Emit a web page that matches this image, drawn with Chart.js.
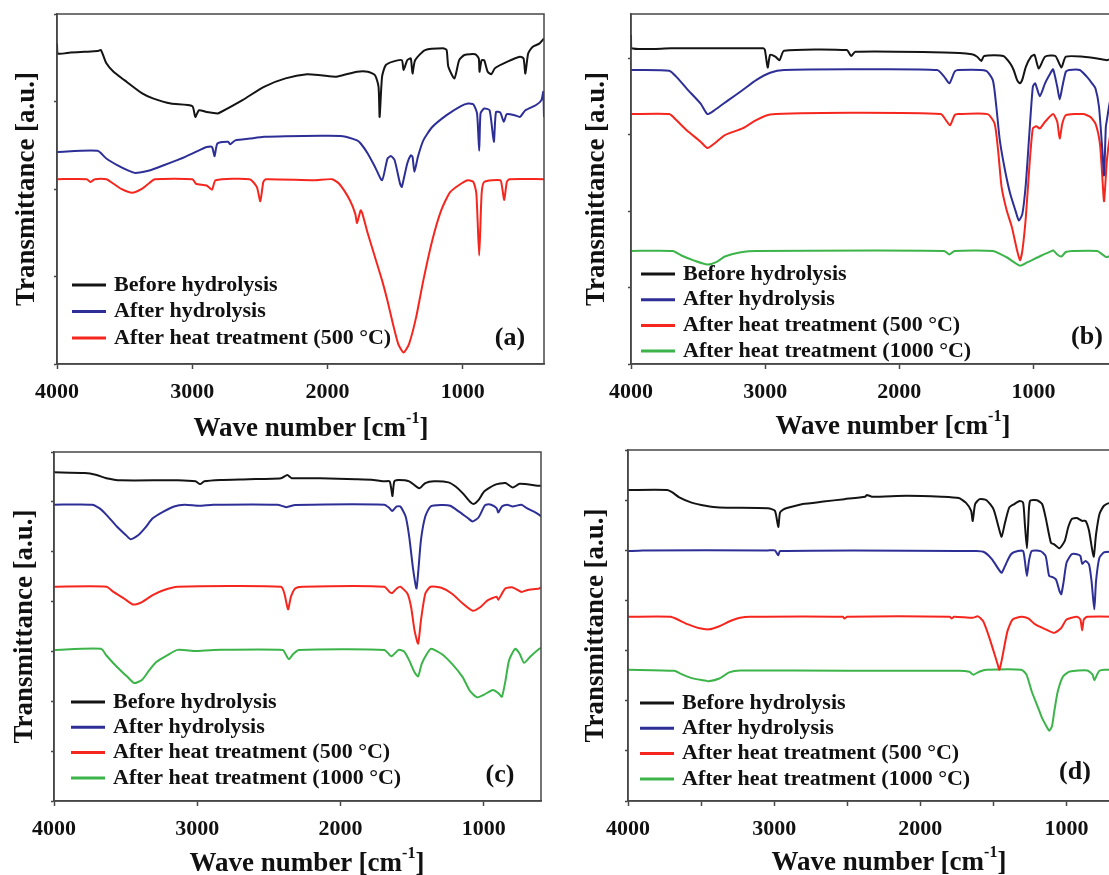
<!DOCTYPE html>
<html>
<head>
<meta charset="utf-8">
<script src="https://cdn.jsdelivr.net/npm/chart.js@4.4.1/dist/chart.umd.min.js"></script>
<style>
  html, body { margin: 0; padding: 0; background: #fff; width: 1109px; height: 875px; overflow: hidden; position: relative; }
  canvas { position: absolute; }
  .xt { position: absolute; transform: translate(-50%, -50%); font: bold 27px "Liberation Serif", serif; color: #111; white-space: nowrap; line-height: 1; }
  .xt sup { font-size: 16px; position: relative; top: -4px; vertical-align: top; }
</style>
</head>
<body>
<canvas id="pa" width="560" height="440" style="left:0;top:0"></canvas>
<canvas id="pb" width="570" height="440" style="left:560px;top:0"></canvas>
<canvas id="pc" width="560" height="435" style="left:0;top:440px"></canvas>
<canvas id="pd" width="570" height="435" style="left:560px;top:440px"></canvas>
<div class="xt" style="left:311px;top:427px">Wave number [cm<sup>-1</sup>]</div>
<div class="xt" style="left:893px;top:425px">Wave number [cm<sup>-1</sup>]</div>
<div class="xt" style="left:307px;top:862px">Wave number [cm<sup>-1</sup>]</div>
<div class="xt" style="left:889px;top:861px">Wave number [cm<sup>-1</sup>]</div>
<script>
// legend names
const labelsABC = ["Before hydrolysis", "After hydrolysis", "After heat treatment (500 °C)", "After heat treatment (1000 °C)"];

// x tick positions (wave number)
const xTicksMain = [4000, 3000, 2000, 1000];
const xTicksD = [4000, 3500, 3000, 2500, 2000, 1500, 1000];
// y tick positions (arbitrary transmittance units, no labels)
const yTicksA = [0, 25, 50, 75, 100];
const yTicksB = [0, 21.9, 43.7, 65.6, 87.4];
const yTicksCD = [0, 14.3, 28.6, 42.9, 57.1, 71.4, 85.7, 100];

// panel (a) spectra: [wave number, transmittance]
const aBefore = [[4000,91.6],[3995,88.7],[3900,89.0],[3800,89.2],[3700,89.4],[3675,89.7],[3635,85.9],[3582,83.5],[3502,81.1],[3370,77.3],[3291,75.9],[3158,74.4],[3000,73.7],[2978,70.6],[2950,72.5],[2894,72.0],[2814,71.6],[2788,72.0],[2629,75.4],[2470,79.2],[2311,81.6],[2152,82.8],[2047,82.5],[1941,82.1],[1888,82.5],[1782,83.5],[1702,83.5],[1649,82.5],[1623,79.2],[1615,70.6],[1597,82.1],[1570,85.4],[1517,86.4],[1451,86.8],[1438,84.0],[1411,86.8],[1385,87.3],[1372,83.0],[1353,86.8],[1279,89.7],[1146,90.2],[1120,89.7],[1107,84.9],[1062,81.6],[1027,86.8],[988,88.3],[908,88.5],[882,87.3],[877,83.5],[861,86.8],[842,86.8],[816,83.5],[789,82.8],[763,84.5],[670,86.4],[577,87.8],[551,87.3],[538,83.0],[517,88.7],[485,90.6],[432,91.6],[400,93.0]];
const aAfter = [[4000,60.6],[3700,60.9],[3635,58.7],[3555,56.8],[3476,55.3],[3423,54.6],[3317,55.3],[3211,56.8],[3052,59.2],[2946,61.1],[2894,62.0],[2854,62.0],[2835,59.4],[2814,63.0],[2735,63.5],[2721,62.8],[2682,63.9],[2576,64.4],[2470,64.9],[2311,65.1],[2047,65.2],[1888,65.1],[1782,63.9],[1755,63.0],[1702,60.1],[1649,56.3],[1597,52.5],[1557,58.7],[1530,59.4],[1504,58.2],[1464,51.5],[1451,50.6],[1411,57.3],[1385,59.6],[1372,59.2],[1358,54.9],[1332,59.2],[1292,63.9],[1226,67.7],[1120,71.1],[1014,73.7],[961,74.4],[922,74.2],[895,71.6],[879,60.9],[869,71.6],[842,73.0],[802,72.5],[771,63.5],[755,72.0],[723,71.8],[697,69.2],[675,71.4],[617,71.1],[577,70.6],[538,72.5],[458,74.0],[419,75.4],[405,77.8],[400,70.6]];
const aHeat500 = [[4000,52.8],[3780,52.8],[3754,52.0],[3720,52.8],[3635,52.8],[3582,51.5],[3529,50.1],[3444,48.9],[3370,50.1],[3317,51.7],[3277,52.8],[2999,52.8],[2973,51.5],[2894,51.0],[2854,49.8],[2827,52.5],[2576,52.8],[2523,50.6],[2497,46.5],[2475,52.0],[2457,52.8],[2099,52.5],[1967,52.8],[1914,51.5],[1835,46.8],[1795,42.9],[1782,40.3],[1755,43.9],[1742,42.9],[1702,37.2],[1649,30.5],[1597,23.9],[1557,18.1],[1517,11.5],[1477,5.7],[1438,3.3],[1398,5.7],[1345,13.4],[1292,23.9],[1226,35.3],[1160,43.9],[1094,49.1],[1014,51.5],[961,52.5],[922,52.0],[900,48.7],[879,31.0],[861,48.7],[842,52.0],[723,52.5],[710,50.6],[694,46.9],[675,52.0],[657,52.8],[400,52.8]];

// panel (b)
const bBefore = [[4000,94.0],[3998,90.2],[3700,90.2],[3015,90.2],[3002,89.7],[2981,84.7],[2963,88.3],[2924,87.8],[2893,86.8],[2859,89.5],[2392,89.7],[2359,88.0],[2328,89.2],[1666,89.0],[1459,88.5],[1420,87.8],[1389,86.6],[1368,88.0],[1225,88.0],[1174,85.9],[1148,84.0],[1122,81.1],[1101,80.2],[1083,81.3],[1057,84.9],[1018,87.8],[992,88.3],[961,84.4],[914,87.8],[837,88.0],[792,84.7],[759,87.8],[629,87.8],[525,87.3],[453,86.8],[400,87.5]];
const bAfter = [[4000,84.0],[3715,83.8],[3663,82.1],[3585,78.7],[3481,74.4],[3430,71.4],[3378,72.5],[3274,75.4],[3170,78.2],[3067,81.1],[2963,83.2],[2859,84.0],[2366,84.2],[1718,84.0],[1666,82.1],[1627,80.2],[1588,83.5],[1563,84.0],[1355,83.8],[1303,81.1],[1277,73.5],[1251,63.9],[1212,55.3],[1174,48.7],[1135,43.9],[1109,41.0],[1083,42.9],[1057,51.5],[1031,65.8],[1005,79.2],[987,80.2],[953,76.5],[914,80.2],[875,83.0],[854,84.2],[823,79.2],[805,75.6],[785,79.2],[759,83.5],[733,84.0],[655,84.0],[603,82.1],[564,80.2],[538,78.7],[512,73.5],[487,61.1],[474,53.9],[461,67.7],[453,69.7],[430,75.0],[400,78.0]];
const bHeat500 = [[4000,71.4],[3715,71.4],[3663,69.7],[3585,66.8],[3481,63.5],[3430,61.7],[3378,63.0],[3300,65.4],[3170,67.3],[3067,69.7],[2963,71.3],[2366,71.8],[1692,71.4],[1653,69.7],[1622,68.2],[1588,71.1],[1563,71.4],[1342,71.4],[1290,68.7],[1264,61.1],[1238,50.6],[1200,43.9],[1161,39.1],[1122,32.4],[1101,29.6],[1083,32.4],[1057,42.0],[1031,56.3],[1005,67.3],[979,67.9],[953,67.3],[914,69.2],[854,71.4],[823,69.2],[805,64.4],[785,68.7],[759,71.1],[629,71.4],[577,70.6],[538,68.7],[505,63.0],[487,53.4],[474,46.5],[453,58.2],[430,65.0],[400,70.0]];
const bHeat1000 = [[4000,32.3],[3689,32.3],[3624,31.0],[3533,29.6],[3430,28.4],[3365,29.1],[3300,30.7],[3170,32.0],[3067,32.3],[1666,32.3],[1627,31.3],[1588,32.3],[1303,32.3],[1200,30.5],[1101,28.1],[1044,29.1],[940,31.0],[862,32.3],[854,32.5],[823,31.3],[792,30.7],[759,32.0],[707,32.3],[525,32.3],[487,31.3],[453,30.5],[400,31.5]];

// panel (c)
const cBefore = [[4000,94.2],[3784,94.0],[3709,93.5],[3634,92.5],[3535,91.9],[3137,91.9],[3012,91.6],[2980,90.8],[2950,91.6],[2838,92.0],[2639,92.2],[2415,92.5],[2371,93.4],[2341,92.5],[2142,92.5],[1893,92.2],[1769,92.0],[1694,91.6],[1657,91.6],[1644,89.1],[1637,87.4],[1624,91.6],[1594,92.0],[1520,91.6],[1450,89.6],[1408,91.1],[1346,91.6],[1246,91.3],[1196,90.1],[1147,88.2],[1097,85.8],[1072,85.1],[1035,86.3],[997,88.7],[923,90.6],[848,91.1],[798,89.8],[749,90.9],[612,90.3],[600,90.3]];
const cAfter = [[4000,84.9],[3734,84.9],[3684,83.9],[3634,82.0],[3560,78.6],[3498,76.2],[3465,75.0],[3410,76.2],[3361,78.4],[3311,81.0],[3236,82.9],[3162,84.4],[3087,84.9],[2988,84.6],[2888,84.9],[2440,84.9],[2378,84.2],[2316,84.8],[1694,84.9],[1657,83.9],[1639,83.1],[1607,84.4],[1582,84.4],[1545,81.5],[1520,75.7],[1495,67.1],[1470,60.9],[1458,65.2],[1438,74.8],[1408,81.5],[1371,84.4],[1296,84.8],[1234,84.6],[1172,82.9],[1109,81.0],[1077,80.1],[1035,81.3],[997,84.4],[985,84.9],[948,84.9],[910,83.9],[898,82.7],[873,84.4],[836,84.9],[798,84.4],[736,84.9],[699,83.9],[649,82.9],[612,82.0],[600,81.5]];
const cHeat500 = [[4000,61.4],[3634,61.4],[3585,59.9],[3510,58.0],[3448,56.3],[3386,57.0],[3311,59.0],[3236,60.4],[3137,61.4],[2415,61.4],[2391,59.4],[2366,54.9],[2346,58.5],[2316,60.9],[2266,61.4],[1694,61.4],[1657,59.9],[1639,59.6],[1607,60.9],[1582,61.4],[1532,59.4],[1507,55.6],[1483,48.9],[1458,45.1],[1438,51.8],[1408,59.4],[1371,61.4],[1296,61.1],[1221,59.4],[1147,56.6],[1077,54.5],[1022,55.6],[973,57.5],[910,58.5],[898,57.7],[873,59.4],[848,60.9],[798,61.2],[736,59.9],[699,60.4],[612,60.9],[600,61.2]];
const cHeat1000 = [[4000,43.3],[3672,43.6],[3634,41.7],[3560,38.4],[3486,35.5],[3440,33.8],[3386,34.7],[3336,37.4],[3286,39.8],[3211,41.7],[3137,43.3],[3012,43.0],[2888,43.3],[2403,43.3],[2378,41.7],[2361,40.6],[2328,42.2],[2291,43.3],[1694,43.3],[1644,41.5],[1594,43.3],[1557,42.9],[1520,40.3],[1483,36.9],[1458,35.7],[1433,39.3],[1396,42.2],[1366,43.6],[1296,42.2],[1221,39.3],[1147,35.5],[1097,31.6],[1047,29.7],[997,30.5],[935,31.8],[898,30.9],[873,29.9],[848,34.5],[823,40.3],[781,43.6],[749,42.2],[719,39.6],[674,41.4],[612,43.6],[600,43.8]];

// panel (d)
const dBefore = [[4000,88.6],[3732,88.6],[3696,87.9],[3649,86.5],[3565,85.0],[3470,84.1],[3375,83.6],[3043,83.4],[2995,82.7],[2972,78.1],[2960,82.2],[2936,83.1],[2900,83.6],[2805,84.6],[2663,85.3],[2520,86.0],[2378,86.7],[2366,87.2],[2330,86.7],[2093,87.0],[1855,86.7],[1737,86.3],[1689,85.0],[1653,82.7],[1642,79.8],[1625,84.6],[1594,86.0],[1547,85.7],[1499,83.1],[1464,77.9],[1444,75.3],[1423,78.9],[1392,83.6],[1357,84.6],[1321,85.5],[1297,85.0],[1285,78.9],[1271,72.0],[1262,78.9],[1250,85.5],[1202,85.7],[1167,84.6],[1143,80.8],[1107,73.6],[1084,73.1],[1048,72.0],[1012,74.1],[989,77.9],[965,80.3],[929,80.6],[893,79.8],[870,79.8],[846,77.0],[815,69.6],[798,76.0],[775,81.7],[744,84.1],[700,85.0],[600,85.5]];
const dAfter = [[4000,71.2],[3900,71.4],[3043,71.4],[2995,71.4],[2972,70.0],[2960,71.2],[1618,71.2],[1559,70.8],[1511,68.9],[1464,66.0],[1444,65.0],[1416,67.4],[1380,70.3],[1333,71.2],[1297,71.2],[1285,68.4],[1271,64.1],[1257,68.4],[1238,71.2],[1178,71.2],[1143,69.8],[1119,64.1],[1095,63.8],[1072,63.1],[1048,59.8],[1036,58.9],[1019,62.7],[1000,67.9],[965,70.3],[929,70.3],[905,69.8],[893,67.6],[870,68.4],[846,67.4],[829,62.7],[810,54.6],[798,62.7],[775,69.3],[744,70.8],[700,71.0],[600,71.2]];
const dHeat500 = [[4000,52.5],[3708,52.5],[3660,51.7],[3589,50.3],[3518,49.3],[3447,48.9],[3375,49.8],[3304,51.2],[3233,52.2],[3162,52.5],[2530,52.5],[2520,52.0],[2500,52.5],[1800,52.5],[1784,52.0],[1770,52.5],[1642,52.2],[1606,52.6],[1570,51.2],[1535,47.4],[1499,42.7],[1471,38.9],[1459,37.4],[1440,40.8],[1404,48.4],[1369,51.7],[1309,52.5],[1262,52.0],[1214,50.3],[1143,48.9],[1084,47.9],[1036,49.3],[1000,51.7],[929,52.5],[905,51.7],[893,48.6],[882,51.7],[858,52.5],[600,52.5]];
const dHeat1000 = [[4000,37.4],[3684,37.1],[3637,36.2],[3565,35.0],[3470,34.3],[3447,34.1],[3375,34.9],[3304,36.7],[3233,37.2],[2500,37.1],[1737,37.1],[1665,36.8],[1637,36.0],[1594,36.9],[1547,37.4],[1309,37.4],[1274,36.0],[1238,31.2],[1202,27.4],[1167,23.6],[1131,20.8],[1119,20.0],[1100,21.2],[1084,25.5],[1060,31.2],[1024,35.5],[977,36.9],[858,37.2],[822,36.0],[810,34.4],[791,36.0],[775,37.1],[744,37.4],[600,37.4]];

const seriesColors = ["#141414", "#2d2f96", "#f5261e", "#3cb44a"];
const serif = '"Liberation Serif", "Times New Roman", serif';

// frame box, inset legend and panel letter
const panelDecor = {
  id: "panelDecor",
  afterDraw(chart, args, opts) {
    const { ctx, chartArea: a } = chart;
    ctx.save();
    ctx.strokeStyle = "#474747";
    ctx.lineWidth = 1.5;
    ctx.strokeRect(a.left, a.top, a.right - a.left, a.bottom - a.top);

    ctx.font = "bold 22px " + serif;
    ctx.textBaseline = "middle";
    ctx.textAlign = "left";
    chart.data.datasets.forEach((ds, i) => {
      const y = opts.y + i * opts.dy;
      ctx.strokeStyle = ds.borderColor;
      ctx.lineWidth = 3;
      ctx.beginPath();
      ctx.moveTo(opts.x, y);
      ctx.lineTo(opts.x + 34, y);
      ctx.stroke();
      ctx.fillStyle = "#111";
      ctx.fillText(ds.label, opts.x + 42, y);
    });

    ctx.font = "bold 26px " + serif;
    ctx.textAlign = "center";
    ctx.fillText(opts.tag, opts.tagX, opts.tagY);
    ctx.restore();
  }
};

function makePanel(id, spectra, cfg) {
  const datasets = spectra.map((pts, i) => ({
    label: labelsABC[i],
    data: pts.map(p => ({ x: p[0], y: p[1] })),
    borderColor: seriesColors[i],
    borderWidth: 2,
    pointRadius: 0,
    tension: 0.2,
    fill: false
  }));

  return new Chart(document.getElementById(id), {
    type: "line",
    data: { datasets },
    plugins: [panelDecor],
    options: {
      responsive: false,
      animation: false,
      events: [],
      layout: { padding: { left: 0, top: cfg.padTop, right: cfg.padRight, bottom: 0 } },
      plugins: {
        legend: { display: false },
        tooltip: { enabled: false },
        panelDecor: cfg.legend
      },
      scales: {
        x: {
          type: "linear",
          reverse: true,
          min: cfg.xMin,
          max: 4000,
          afterBuildTicks: s => { s.ticks = cfg.xTicks.map(v => ({ value: v })); },
          afterFit: s => { s.height = cfg.xHeight; },
          grid: { drawOnChartArea: false, color: "#474747", tickLength: 5, tickWidth: 1.5 },
          border: { display: true, color: "#474747", width: 1.5 },
          ticks: {
            autoSkip: false,
            maxRotation: 0,
            padding: 10,
            color: "#111",
            font: { family: serif, size: 22, weight: "bold" },
            callback: v => (v % 1000 === 0 ? String(v) : "")
          }
        },
        y: {
          min: 0,
          max: 100,
          afterBuildTicks: s => { s.ticks = cfg.yTicks.map(v => ({ value: v })); },
          afterFit: s => { s.width = cfg.yWidth; },
          grid: { drawOnChartArea: false, color: "#474747", tickLength: 3, tickWidth: 1.5 },
          border: { display: true, color: "#474747", width: 1.5 },
          ticks: { display: false },
          title: {
            display: true,
            text: "Transmittance [a.u.]",
            color: "#111",
            font: { family: serif, size: 27, weight: "bold" },
            padding: { top: cfg.yTitlePad, bottom: 0 }
          }
        }
      }
    }
  });
}

makePanel("pa", [aBefore, aAfter, aHeat500], {
  xMin: 400, xTicks: xTicksMain, yTicks: yTicksA,
  padTop: 14, padRight: 16, xHeight: 76, yWidth: 57, yTitlePad: 11,
  legend: { x: 72, y: 285, dy: 26.5, tag: "(a)", tagX: 510, tagY: 338 }
});
makePanel("pb", [bBefore, bAfter, bHeat500, bHeat1000], {
  xMin: 400, xTicks: xTicksMain, yTicks: yTicksB,
  padTop: 14, padRight: 16, xHeight: 76, yWidth: 71, yTitlePad: 21,
  legend: { x: 81, y: 274, dy: 25.7, tag: "(b)", tagX: 527, tagY: 337 }
});
makePanel("pc", [cBefore, cAfter, cHeat500, cHeat1000], {
  xMin: 600, xTicks: xTicksMain, yTicks: yTicksCD,
  padTop: 12, padRight: 19, xHeight: 74, yWidth: 54, yTitlePad: 9,
  legend: { x: 71, y: 262, dy: 25.3, tag: "(c)", tagX: 500, tagY: 335 }
});
makePanel("pd", [dBefore, dAfter, dHeat500, dHeat1000], {
  xMin: 600, xTicks: xTicksD, yTicks: yTicksCD,
  padTop: 10, padRight: 5, xHeight: 74, yWidth: 68, yTitlePad: 20,
  legend: { x: 80, y: 263, dy: 25.3, tag: "(d)", tagX: 515, tagY: 332 }
});
</script>
</body>
</html>
